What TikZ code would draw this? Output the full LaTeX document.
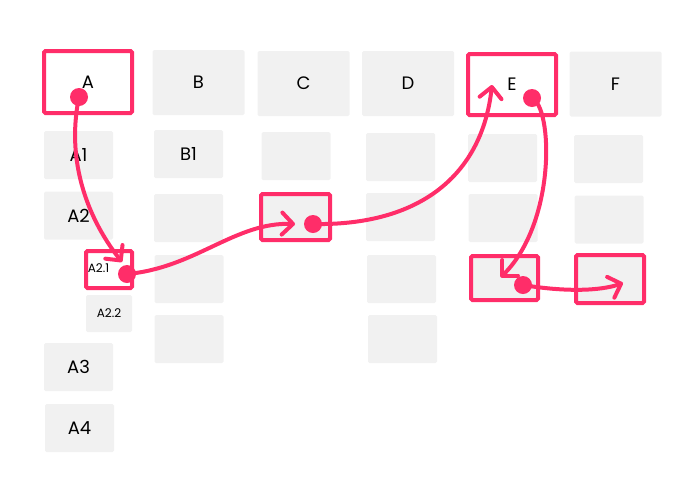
\documentclass[tikz,border=0pt]{standalone}
\usepackage{fontspec}
\setmainfont{Poppins}
\usetikzlibrary{arrows.meta}
\definecolor{hot}{RGB}{255,45,105}
\definecolor{cellgrey}{RGB}{241,241,241}
\begin{document}
\begin{tikzpicture}[x=1pt,y=-1pt,
  cell/.style={fill=cellgrey, rounded corners=1.5pt, inner sep=0pt, font=\fontsize{18}{21}\selectfont},
  top/.style={cell, minimum width=92pt, minimum height=65pt},
  sub/.style={cell, minimum width=69pt, minimum height=48pt},
  small/.style={cell, minimum width=46pt, minimum height=37pt, font=\fontsize{12}{14}\selectfont},
  hl/.style={draw=hot, line width=4pt},
  dot/.style={circle, fill=hot, minimum size=18pt, inner sep=0pt},
  link/.style={draw=hot, line width=4pt, line cap=round,
    -{Straight Barb[length=11pt,width=22pt,line cap=round,line join=round]}}]
\useasboundingbox (0,0) rectangle (700,491);
% top row
\node[top, hl, fill=white, minimum width=88pt, minimum height=62pt] (A) at (88,82) {A};
\node[top] (B) at (198.5,82.5) {B};
\node[top] (C) at (303.5,83.5) {C};
\node[top] (D) at (408,83.5) {D};
\node[top, hl, fill=white, minimum width=88pt, minimum height=61pt] (E) at (512,84.5) {E};
\node[top] (F) at (615.5,84) {F};
% column A
\node[sub] (A1) at (78.5,155) {A1};
\node[sub] (A2) at (78.5,215.5) {A2};
\node[small, hl, fill=white, minimum width=46pt, minimum height=37pt] (A21) at (109,269.5) {};
\node[font=\fontsize{12}{14}\selectfont, inner sep=0pt] (A21t) at (98.5,268) {A2.1};
\node[small] (A22) at (109,313.5) {A2.2};
\node[sub] (A3) at (78.5,367) {A3};
\node[sub] (A4) at (79.5,428) {A4};
% column B
\node[sub] (B1) at (188.5,154) {B1};
\node[sub] (B3) at (188.5,218) {};
\node[sub] (B4) at (189,279) {};
\node[sub] (B5) at (189,339) {};
% column C
\node[sub] (C2) at (296,156) {};
\node[sub, hl, minimum width=69pt, minimum height=46pt] (C3) at (295.5,217) {};
% column D
\node[sub] (D2) at (400.5,157) {};
\node[sub] (D3) at (400.5,217) {};
\node[sub] (D4) at (401.5,279) {};
\node[sub] (D5) at (402.5,339) {};
% column E
\node[sub] (E2) at (502.5,158) {};
\node[sub] (E3) at (503,218) {};
\node[sub, hl, minimum width=67pt, minimum height=44pt] (E4) at (504.5,278) {};
% column F
\node[sub] (F2) at (608.5,159) {};
\node[sub] (F3) at (609,219.5) {};
\node[sub, hl, minimum width=68pt, minimum height=48pt] (F4) at (610,279) {};
% dots
\node[dot] (dA) at (79,97) {};
\node[dot] (dA21) at (127,274) {};
\node[dot] (dC) at (313,224) {};
\node[dot] (dE) at (532,98) {};
\node[dot] (dE4) at (523,285) {};
% arrow tips
\coordinate (tA21) at (122,262);
\coordinate (tC) at (295,224);
\coordinate (tE) at (492,85);
\coordinate (tE4) at (501,277);
\coordinate (tF4) at (623,283);
% connectors
\draw[link] (dA.center) .. controls (64,170) and (95,228) .. (tA21);
\draw[link] (dA21.center) .. controls (195,268) and (235,222) .. (tC);
\draw[link] (dC.center) .. controls (420,226) and (482,175) .. (tE);
\draw[link] (dE.center) .. controls (553,108) and (556,222) .. (tE4);
\draw[link] (dE4.center) .. controls (565,292) and (600,291) .. (tF4);
\end{tikzpicture}
\end{document}
